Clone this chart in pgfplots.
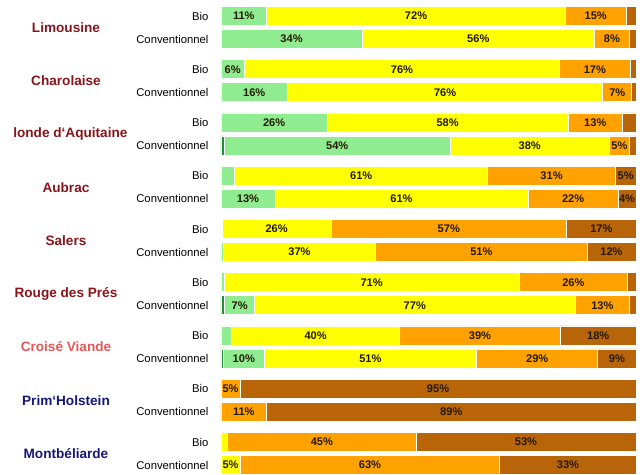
\documentclass[border=0pt]{standalone}
\usepackage{fontspec}
\setmainfont{Liberation Sans}
\usepackage{pgfplots}
\usepackage{pgfplotstable}
\pgfplotsset{compat=1.18}

\definecolor{dgreen}{RGB}{35,140,55}
\definecolor{lgreen}{RGB}{144,236,144}
\definecolor{yel}{RGB}{255,255,0}
\definecolor{orng}{RGB}{255,162,0}
\definecolor{brwn}{RGB}{184,100,8}
\definecolor{lbl}{RGB}{35,25,0}
\definecolor{redname}{RGB}{135,22,28}
\definecolor{pinkname}{RGB}{228,88,88}
\definecolor{bluename}{RGB}{22,22,120}

% y = row centre (pixels from the bottom), one row per bar
\pgfplotstableread{
y       dg   lg    ye    or    br
459     0    11    72    14.6  2.4
436     0    34    56    8.4   1.6
405.75  0    5.6   76    17    1.4
382.75  0    16    76    7     1
352.5   0    25.6  58    13.2  3.2
329.5   0.8  54.4  38.4  4.8   1.6
299.25  0    3.3   61    30.7  5
276.25  0    13    61    21.7  4.3
246     0    0.3   26.2  56.8  16.7
223     0    0.5   36.8  50.9  11.8
192.75  0    0.8   71    26.2  2
169.75  0.9  7.2   77.2  13.2  1.5
139.5   0    2.6   40.4  38.8  18.2
116.5   0.6  9.8   51.2  29.2  9.2
86.25   0    0     0     4.6   95.4
63.25   0    0     0     11    89
33      0    0     1.6   45.4  53
10      0    0     4.6   62.6  32.8
}\datatable

\begin{document}
\begin{tikzpicture}
\useasboundingbox (0,0) rectangle (482.25pt,356.25pt);
\begin{axis}[
    scale only axis,
    width=482.25pt, height=356.25pt,
    xmin=-53.25, xmax=101.69,
    ymin=0, ymax=475,
    hide axis,
    clip=false,
    xbar stacked,
    bar width=19,
    visualization depends on=rawx \as \rawx,
    nodes near coords={\ifdim\rawx pt<4pt\else\pgfmathprintnumber[fixed,precision=0,assume math mode=true]{\rawx}\%\fi},
    nodes near coords align={center},
    every node near coord/.append style={
        font=\fontsize{8.3}{10}\selectfont\bfseries,
        text=lbl, anchor=center},
    every axis plot/.append style={draw=white, line width=0.6pt},
]
\addplot[fill=dgreen] table[x=dg, y=y] {\datatable};
\addplot[fill=lgreen] table[x=lg, y=y] {\datatable};
\addplot[fill=yel] table[x=ye, y=y] {\datatable};
\addplot[fill=orng] table[x=or, y=y] {\datatable};
\addplot[fill=brwn] table[x=br, y=y] {\datatable};

% row labels
\foreach \b in {459,405.75,352.5,299.25,246,192.75,139.5,86.25,33}{
  \edef\c{\noexpand\node[anchor=east, font=\noexpand\fontsize{8.45}{10}\noexpand\selectfont] at (axis cs:-1.9,\b) {Bio};}\c
  \pgfmathsetmacro{\cv}{\b-23}
  \edef\c{\noexpand\node[anchor=east, font=\noexpand\fontsize{8.45}{10}\noexpand\selectfont] at (axis cs:-1.9,\cv) {Conventionnel};}\c
}

% group names
\tikzset{grp/.style={font=\fontsize{10.2}{12}\selectfont\bfseries}}
\node[grp, text=redname] at (axis cs:-37.35,447.5) {Limousine};
\node[grp, text=redname] at (axis cs:-37.35,394.25) {Charolaise};
\node[grp, text=redname, anchor=west, inner xsep=0pt] at (axis cs:-50.1,341) {londe d‘Aquitaine};
\node[grp, text=redname] at (axis cs:-37.35,287.75) {Aubrac};
\node[grp, text=redname] at (axis cs:-37.35,234.5) {Salers};
\node[grp, text=redname] at (axis cs:-37.35,181.25) {Rouge des Prés};
\node[grp, text=pinkname] at (axis cs:-37.35,128) {Croisé Viande};
\node[grp, text=bluename] at (axis cs:-37.35,74.75) {Prim‘Holstein};
\node[grp, text=bluename] at (axis cs:-37.35,21.5) {Montbéliarde};
\end{axis}
\end{tikzpicture}
\end{document}
